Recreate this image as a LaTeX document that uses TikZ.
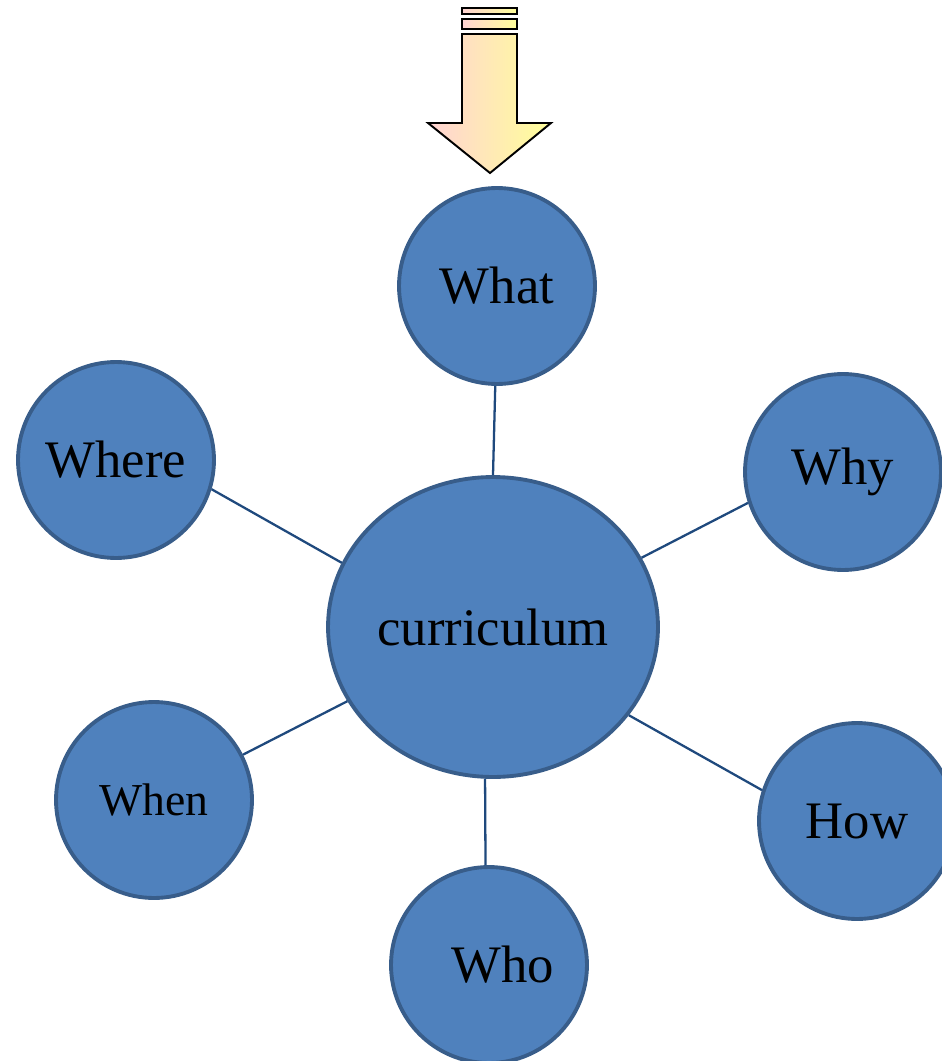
\documentclass[tikz,border=0pt]{standalone}
\usepackage{fontspec}
\setmainfont{Liberation Serif}
\usetikzlibrary{shapes.geometric}

\definecolor{ballfill}{HTML}{4F81BD}
\definecolor{balledge}{HTML}{385D8A}
\definecolor{spoke}{HTML}{1F497D}
\definecolor{arrowpink}{HTML}{FFD3D3}
\definecolor{arrowyellow}{HTML}{FFFF99}

\begin{document}
\begin{tikzpicture}[x=0.02cm,y=-0.02cm,every node/.style={black},
	ball/.style={circle,fill=ballfill,draw=balledge,line width=2.2pt,minimum size=3.92cm,inner sep=0pt,font=\fontsize{30}{36}\selectfont},
	spokeline/.style={spoke,line width=1.3pt},
	arrowfill/.style={left color=arrowpink,right color=arrowyellow,draw=black,line width=1.1pt}]
	\useasboundingbox (0,0) rectangle (941,1061);

	\shadedraw[arrowfill] (462,8) rectangle (517,14);
	\shadedraw[arrowfill] (462,19) rectangle (517,29);
	\shadedraw[arrowfill] (462,34) -- (517,34) -- (517,123) -- (551,123) -- (490,173) -- (428,123) -- (462,123) -- cycle;

	\node[ball] (What) at (497,286) {What};
	\node[ball] (Where) at (116,460) {Where};
	\node[ball] (Why) at (843,472) {Why};
	\node[ball,ellipse,minimum width=6.6cm,minimum height=6cm] (Cur) at (493,627) {curriculum};
	\node[ball,font=\fontsize{26}{31}\selectfont] (When) at (154,800) {When};
	\node[ball] (How) at (857,821) {How};
	\node[ball] (Who) at (489,965) {\hspace*{16pt}Who};

	\draw[spokeline] (What.-91) -- (Cur.90);
	\draw[spokeline] (Where.-17) -- (Cur.157);
	\draw[spokeline] (Why.-162) -- (Cur.25);
	\draw[spokeline] (When.27) -- (Cur.207);
	\draw[spokeline] (How.162) -- (Cur.-33);
	\draw[spokeline] (Who.92) -- (Cur.-93);
\end{tikzpicture}
\end{document}
